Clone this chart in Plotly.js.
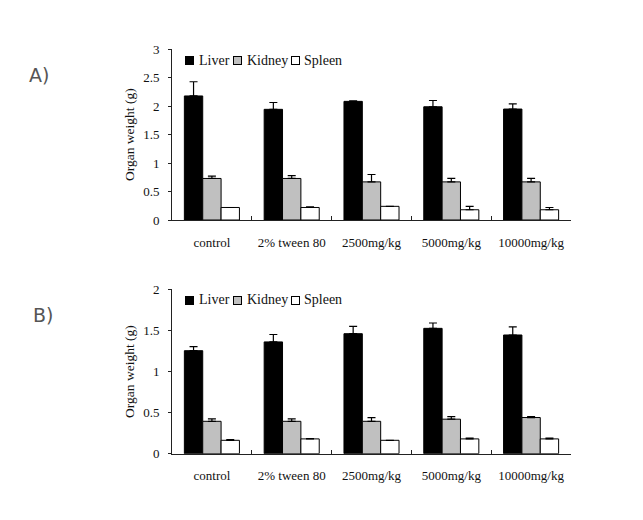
<!DOCTYPE html>
<html>
<head>
<meta charset="utf-8">
<script src="https://cdn.plot.ly/plotly-3.0.1.min.js"></script>
<style>html,body{margin:0;padding:0;background:#fff;}#chart{width:643px;height:520px;}</style>
</head>
<body>
<div id="chart"></div>
<script>
const categories = ["control", "2% tween 80", "2500mg/kg", "5000mg/kg", "10000mg/kg"];

const liverA = [2.18, 1.945, 2.085, 1.99, 1.95];
const liverAErr = [0.25, 0.12, 0.01, 0.11, 0.09];
const kidneyA = [0.73, 0.73, 0.67, 0.67, 0.67];
const kidneyAErr = [0.04, 0.05, 0.13, 0.06, 0.06];
const spleenA = [0.22, 0.22, 0.24, 0.18, 0.18];
const spleenAErr = [0.0, 0.01, 0.0, 0.06, 0.04];

const liverB = [1.253, 1.36, 1.46, 1.525, 1.444];
const liverBErr = [0.05, 0.09, 0.09, 0.065, 0.10];
const kidneyB = [0.394, 0.394, 0.394, 0.42, 0.44];
const kidneyBErr = [0.03, 0.03, 0.045, 0.03, 0.01];
const spleenB = [0.163, 0.18, 0.163, 0.18, 0.18];
const spleenBErr = [0.01, 0.005, 0.0, 0.01, 0.01];

const seriesNames = ["Liver", "Kidney", "Spleen"];
const colors = ["#000000", "#c0c0c0", "#ffffff"];
const panelLabels = ["A)", "B)"];

function mk(name, color, y, err, xa, ya) {
  return {
    type: "bar", name: name, x: categories, y: y,
    xaxis: xa, yaxis: ya, showlegend: false,
    marker: {color: color, line: {color: "#000", width: 1}},
    error_y: {type: "data", array: err, arrayminus: err.map(() => 0), symmetric: false,
              color: "#000", thickness: 1.2, width: 4}
  };
}

const data = [
  mk(seriesNames[0], colors[0], liverA, liverAErr, "x", "y"),
  mk(seriesNames[1], colors[1], kidneyA, kidneyAErr, "x", "y"),
  mk(seriesNames[2], colors[2], spleenA, spleenAErr, "x", "y"),
  mk(seriesNames[0], colors[0], liverB, liverBErr, "x2", "y2"),
  mk(seriesNames[1], colors[1], kidneyB, kidneyBErr, "x2", "y2"),
  mk(seriesNames[2], colors[2], spleenB, spleenBErr, "x2", "y2")
];

const serif = "Liberation Serif, Times New Roman, serif";
const xTickFont = {family: serif, size: 13, color: "#111"};
const yTickFont = {family: serif, size: 13, color: "#111"};

function xax(anchor) {
  return {
    domain: [172/643, 571/643], anchor: anchor, type: "category",
    showline: true, linecolor: "#222", linewidth: 1,
    ticks: "inside", tickson: "boundaries", ticklen: 4, tickcolor: "#222",
    showgrid: false, tickfont: xTickFont, automargin: false, ticklabelstandoff: 10
  };
}
function yax(anchor, dom, range) {
  return {
    domain: dom, anchor: anchor, range: range, dtick: 0.5,
    showline: true, linecolor: "#222", linewidth: 1,
    ticks: "outside", ticklen: 3, tickcolor: "#222",
    showgrid: false, zeroline: false, tickfont: yTickFont, automargin: false,
    ticklabelstandoff: 6,
    title: {text: "Organ weight (g)", font: {family: serif, size: 13.5, color: "#111"}, standoff: 5}
  };
}

// legend built from annotations: colored squares + series names
const annotations = [];
const legendRows = [60.5, 300];
const squareX = [189.5, 237.5, 295.5];
const textX = [196.5, 244.5, 302];
legendRows.forEach(function (yy) {
  for (let i = 0; i < 3; i++) {
    annotations.push({
      text: " ", x: squareX[i]/643, y: 1 - yy/520, xref: "paper", yref: "paper",
      showarrow: false, xanchor: "center", yanchor: "middle",
      width: 7, height: 7, borderpad: 0, borderwidth: 1, bordercolor: "#000",
      bgcolor: colors[i], font: {size: 4}
    });
    annotations.push({
      text: seriesNames[i], x: textX[i]/643, y: 1 - (yy - 0.5)/520, xref: "paper", yref: "paper",
      showarrow: false, xanchor: "left", yanchor: "middle",
      font: {family: serif, size: 14, color: "#111"}
    });
  }
});
annotations.push({text: panelLabels[0], x: 27/643, y: 1 - 75/520, xref: "paper", yref: "paper", showarrow: false,
  xanchor: "left", yanchor: "middle", font: {family: "DejaVu Sans", size: 19, color: "#555"}});
annotations.push({text: panelLabels[1], x: 31/643, y: 1 - 315/520, xref: "paper", yref: "paper", showarrow: false,
  xanchor: "left", yanchor: "middle", font: {family: "DejaVu Sans", size: 19, color: "#555"}});

const layout = {
  width: 643, height: 520,
  margin: {l: 0, r: 0, t: 0, b: 0},
  paper_bgcolor: "#fff", plot_bgcolor: "#fff",
  barmode: "group", bargap: 0.31, bargroupgap: 0,
  xaxis: xax("y"),
  yaxis: yax("x", [1 - 220/520, 1 - 49.3/520], [0, 3]),
  xaxis2: xax("y2"),
  yaxis2: yax("x2", [1 - 453.7/520, 1 - 289.3/520], [0, 2]),
  annotations: annotations,
  showlegend: false
};

Plotly.newPlot("chart", data, layout, {displayModeBar: false, staticPlot: true});
</script>
</body>
</html>
